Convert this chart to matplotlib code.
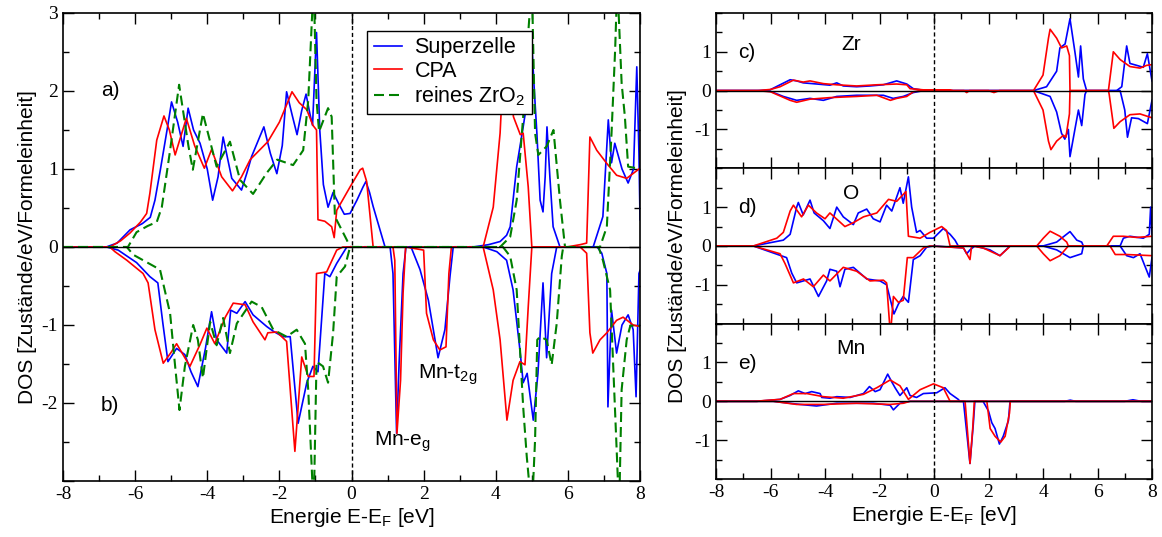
import numpy as np
import matplotlib.pyplot as plt
from matplotlib.ticker import MultipleLocator

# tick numbers in serif, all other text in sans
plt.rcParams['font.family'] = ['Liberation Serif', 'DejaVu Serif']
plt.rcParams['mathtext.default'] = 'regular'
plt.rcParams['axes.unicode_minus'] = False
SANS = ['Liberation Sans', 'DejaVu Sans']

# total DOS (E in eV, DOS per eV and formula unit), majority (up) and minority (dn)
super_up = [(-8, 0), (-6.8, 0), (-6.5, 0.05), (-6.14, 0.22), (-5.8, 0.3), (-5.58, 0.38), (-5.45, 0.6), (-5.3, 0.99),
            (-5.1, 1.54), (-4.99, 1.86), (-4.82, 1.6), (-4.67, 1.29), (-4.53, 1.78), (-4.38, 1.5), (-4.2, 1.33),
            (-4.0, 1.0), (-3.85, 0.6), (-3.7, 0.9), (-3.56, 1.41), (-3.42, 1.1), (-3.32, 0.88), (-3.05, 0.73),
            (-2.9, 0.95), (-2.77, 1.16), (-2.6, 1.35), (-2.43, 1.54), (-2.25, 1.2), (-2.07, 0.94), (-1.92, 1.3),
            (-1.8, 1.99), (-1.65, 1.7), (-1.51, 1.44), (-1.38, 1.75), (-1.26, 1.96), (-1.15, 1.7), (-1.08, 1.56),
            (-0.97, 2.75), (-0.88, 1.5), (-0.78, 0.8), (-0.65, 0.51), (-0.51, 0.7), (-0.35, 0.55), (-0.2, 0.42),
            (-0.04, 0.43), (0.15, 0.6), (0.32, 0.77), (0.4, 0.84), (0.5, 0.7), (0.6, 0.52), (0.79, 0.22), (0.93, 0),
            (3.37, 0), (3.8, 0.03), (4.12, 0.07), (4.3, 0.15), (4.4, 0.26), (4.58, 1.03), (4.76, 1.54), (4.88, 1.9),
            (5.0, 2.6), (5.07, 2.0), (5.14, 1.46), (5.23, 0.6), (5.31, 0.45), (5.37, 0.9), (5.42, 1.54), (5.5, 0.9),
            (5.59, 0.26), (5.78, 0), (6.7, 0), (6.97, 0.39), (7.12, 1.63), (7.21, 1.08), (7.3, 1.33), (7.5, 1.0),
            (7.67, 0.82), (7.82, 1.0), (7.91, 2.31), (7.97, 1.2), (8, 0.35)]
cpa_up = [(-8, 0), (-6.7, 0), (-6.4, 0.08), (-6.14, 0.18), (-5.85, 0.32), (-5.68, 0.43), (-5.59, 0.69), (-5.4, 1.37),
          (-5.2, 1.68), (-5.05, 1.5), (-4.89, 1.18), (-4.58, 1.65), (-4.35, 1.3), (-4.08, 1.01), (-3.88, 1.25),
          (-3.6, 0.9), (-3.3, 0.72), (-3.05, 0.9), (-2.81, 1.12), (-2.32, 1.35), (-2.0, 1.6), (-1.65, 1.99),
          (-1.45, 1.85), (-1.24, 1.76), (-1.07, 1.56), (-0.97, 1.5), (-0.93, 0.35), (-0.74, 0.33), (-0.55, 0.26),
          (-0.48, 0.12), (-0.41, 0.47), (-0.04, 0.77), (0.24, 0.99), (0.31, 1.01), (0.42, 0.84), (0.6, 0),
          (3.65, 0), (3.93, 0.51), (4.12, 1.46), (4.2, 2.2), (4.35, 2.3), (4.49, 1.67), (4.68, 1.44), (4.76, 1.46),
          (4.9, 0.77), (5.0, 0), (5.97, 0), (6.34, 0.03), (6.52, 0.05), (6.61, 1.41), (6.8, 1.24), (7.08, 1.07),
          (7.35, 0.92), (7.63, 0.88), (8, 1.01)]
pure_up = [(-8, 0), (-6.2, 0), (-5.96, 0.19), (-5.65, 0.27), (-5.4, 0.32), (-5.26, 0.51), (-5.03, 1.24), (-4.78, 2.08),
           (-4.52, 1.29), (-4.4, 0.99), (-4.12, 1.71), (-3.74, 1.03), (-3.37, 1.35), (-3.09, 0.86), (-2.73, 0.68),
           (-2.35, 0.95), (-2.06, 1.12), (-1.62, 1.05), (-1.34, 1.24), (-1.2, 1.88), (-1.05, 3.4), (-0.97, 1.88),
           (-0.9, 1.48), (-0.65, 1.78), (-0.55, 1.67), (-0.46, 0.39), (-0.13, 0.09), (-0.04, 0), (4.12, 0),
           (4.4, 0.13), (4.58, 0.6), (4.76, 1.67), (4.9, 2.74), (5.0, 3.4), (5.09, 1.46), (5.18, 1.18), (5.41, 1.29),
           (5.6, 1.5), (5.78, 0.6), (5.92, 0), (6.89, 0), (7.08, 0.26), (7.21, 1.46), (7.31, 2.53), (7.37, 3.4),
           (7.49, 2.1), (7.58, 1.67), (7.67, 1.03), (7.91, 1.01), (8, 1.0)]
super_dn = [(-8, 0), (-6.79, 0), (-6.47, -0.04), (-5.96, -0.2), (-5.59, -0.38), (-5.37, -0.46), (-5.23, -0.98),
            (-5.09, -1.47), (-4.85, -1.3), (-4.62, -1.38), (-4.45, -1.6), (-4.26, -1.79), (-4.05, -1.3),
            (-3.88, -0.83), (-3.74, -1.19), (-3.46, -1.36), (-3.35, -0.81), (-3.18, -0.85), (-2.95, -0.7),
            (-2.73, -0.87), (-2.35, -1.02), (-2.17, -1.08), (-1.9, -1.15), (-1.7, -1.15), (-1.48, -2.26),
            (-1.24, -1.74), (-1.07, -1.53), (-0.93, -1.6), (-0.74, -0.34), (-0.6, -0.38), (-0.41, -0.21),
            (-0.13, 0), (1.07, 0), (1.15, -0.34), (1.25, -2.39), (1.32, -1.49), (1.43, -0.34), (1.51, 0), (1.65, 0),
            (1.9, -0.29), (2.13, -0.68), (2.4, -1.42), (2.59, -1.06), (2.73, -0.38), (2.82, 0), (3.65, 0),
            (4.03, -0.06), (4.3, -0.17), (4.48, -0.55), (4.67, -1.32), (4.76, -1.74), (4.87, -1.62), (5.04, -2.22),
            (5.17, -1.62), (5.31, -0.46), (5.41, -1.42), (5.55, -0.34), (5.69, 0), (6.81, 0), (6.94, -0.08),
            (7.08, -0.34), (7.11, -2.05), (7.21, -0.81), (7.35, -1.36), (7.5, -1.0), (7.67, -0.87), (7.81, -1.06),
            (7.89, -1.92), (7.97, -0.34), (8, -0.3)]
cpa_dn = [(-8, 0), (-6.7, 0), (-6.56, -0.06), (-6.23, -0.17), (-5.78, -0.34), (-5.64, -0.46), (-5.45, -1.06),
          (-5.22, -1.49), (-5.0, -1.35), (-4.85, -1.24), (-4.48, -1.53), (-4.2, -1.25), (-4.01, -1.04),
          (-3.79, -1.24), (-3.5, -0.9), (-3.28, -0.72), (-2.95, -0.74), (-2.73, -0.96), (-2.4, -1.19),
          (-2.32, -1.1), (-2.07, -1.09), (-1.8, -1.21), (-1.57, -2.62), (-1.38, -1.41), (-1.2, -1.66),
          (-1.04, -1.66), (-0.97, -0.34), (-0.69, -0.32), (-0.41, -0.04), (-0.24, 0), (1.15, 0), (1.2, -0.17),
          (1.26, -2.39), (1.36, -1.71), (1.43, -0.59), (1.5, 0), (2.0, -0.04), (2.08, -0.85), (2.27, -1.19),
          (2.45, -1.32), (2.62, -1.28), (2.7, -0.34), (2.77, 0), (3.65, 0), (3.93, -0.55), (4.12, -1.19),
          (4.31, -2.22), (4.48, -1.71), (4.67, -1.47), (4.81, -1.51), (4.9, -0.77), (5.0, 0), (6.34, 0),
          (6.52, -0.08), (6.61, -1.1), (6.69, -1.36), (6.89, -1.19), (7.08, -1.1), (7.35, -0.94), (7.53, -0.9),
          (7.81, -1.0), (8, -1.02)]
pure_dn = [(-8, 0), (-6.23, 0), (-6.05, -0.1), (-5.31, -0.29), (-5.03, -0.85), (-4.89, -1.53), (-4.77, -2.09),
           (-4.62, -1.53), (-4.39, -1.0), (-4.26, -1.19), (-4.12, -1.68), (-3.92, -0.96), (-3.74, -1.26),
           (-3.56, -0.91), (-3.37, -1.36), (-3.18, -0.98), (-2.77, -0.7), (-2.49, -0.77), (-2.17, -1.06),
           (-1.8, -1.15), (-1.52, -1.06), (-1.29, -1.24), (-1.2, -1.83), (-1.1, -2.86), (-1.05, -3.4),
           (-0.97, -1.47), (-0.79, -1.53), (-0.65, -1.74), (-0.51, -1.1), (-0.41, -0.38), (-0.18, -0.25),
           (-0.04, 0), (4.2, 0), (4.4, -0.12), (4.58, -0.55), (4.76, -2.05), (4.86, -2.69), (5.0, -3.4),
           (5.09, -2.47), (5.15, -1.19), (5.23, -1.15), (5.41, -1.19), (5.55, -1.51), (5.69, -0.98), (5.83, -0.12),
           (5.87, 0), (6.85, 0), (6.97, -0.17), (7.17, -0.55), (7.28, -1.79), (7.36, -2.69), (7.42, -3.4),
           (7.49, -1.83), (7.63, -1.19), (7.73, -1.01), (8, -1.01)]

# partial DOS: Zr
zr_super_up = [(-8, 0), (-6.5, 0), (-6.02, 0.02), (-5.65, 0.15), (-5.28, 0.28), (-5.04, 0.25), (-4.8, 0.2),
               (-4.3, 0.17), (-3.82, 0.14), (-3.57, 0.2), (-3.33, 0.12), (-2.84, 0.1), (-2.35, 0.12), (-1.86, 0.15),
               (-1.37, 0.25), (-1.0, 0.17), (-0.76, 0.05), (-0.39, 0.01), (0, 0), (3.65, 0), (4.13, 0.1),
               (4.5, 0.5), (4.62, 1.1), (4.81, 1.2), (4.99, 1.85), (5.17, 1.0), (5.3, 0.35), (5.38, 1.15),
               (5.48, 0.3), (5.6, 0), (6.7, 0), (6.89, 0.1), (7.07, 1.15), (7.19, 0.7), (7.44, 0.65), (7.68, 0.6),
               (7.83, 0.95), (8, 0.25)]
zr_cpa_up = [(-8, 0), (-6.5, 0), (-6.0, 0.03), (-5.65, 0.1), (-5.16, 0.27), (-4.8, 0.22), (-4.55, 0.25),
             (-4.06, 0.18), (-3.57, 0.15), (-2.84, 0.12), (-2.1, 0.15), (-1.37, 0.17), (-1.0, 0.15), (-0.88, 0.05),
             (-0.39, 0.02), (0.59, 0.02), (0.7, 0), (3.65, 0), (4.0, 0.4), (4.2, 1.35), (4.26, 1.58), (4.5, 1.35),
             (4.68, 1.1), (4.87, 1.15), (4.97, 0.9), (4.99, 0), (6.4, 0), (6.58, 1.0), (6.83, 0.8), (7.19, 0.62),
             (7.56, 0.58), (7.8, 0.65), (8, 0.67)]
zr_super_dn = [(-8, 0), (-6.5, 0), (-6.0, -0.02), (-5.53, -0.15), (-5.04, -0.25), (-4.55, -0.2), (-4.06, -0.25),
               (-3.57, -0.15), (-2.84, -0.12), (-1.86, -0.12), (-1.5, -0.2), (-1.13, -0.15), (-0.76, -0.05),
               (-0.39, 0), (3.65, 0), (4.26, -0.15), (4.5, -0.55), (4.68, -1.1), (4.8, -1.25), (4.93, -1.0),
               (4.99, -1.7), (5.17, -1.0), (5.3, -0.5), (5.42, -0.9), (5.54, -0.1), (5.6, 0), (6.83, 0),
               (7.0, -0.5), (7.1, -1.2), (7.25, -0.7), (7.5, -0.72), (7.83, -0.85), (8, -0.25)]
zr_cpa_dn = [(-8, 0), (-6.5, 0), (-6.0, -0.03), (-5.28, -0.25), (-5.04, -0.3), (-4.55, -0.22), (-3.82, -0.18),
             (-2.84, -0.15), (-2.1, -0.12), (-1.6, -0.25), (-1.37, -0.2), (-1.0, -0.15), (-0.76, -0.03), (-0.5, 0),
             (1.1, 0), (1.2, -0.05), (1.3, 0), (2.0, 0), (2.2, -0.05), (2.4, 0), (3.65, 0), (4.0, -0.5),
             (4.2, -1.3), (4.29, -1.52), (4.5, -1.3), (4.75, -1.15), (4.84, -1.2), (4.97, -0.6), (4.99, 0),
             (6.4, 0), (6.43, -0.1), (6.6, -0.97), (6.83, -0.8), (7.19, -0.62), (7.56, -0.6), (8, -0.7)]

# partial DOS: O
o_super_up = [(-8, 0), (-6.63, 0), (-5.53, 0.15), (-5.28, 0.3), (-5.04, 1.0), (-4.98, 1.12), (-4.8, 0.8),
              (-4.55, 1.18), (-4.4, 0.85), (-4.06, 0.65), (-3.82, 0.45), (-3.57, 1.0), (-3.33, 0.75), (-2.96, 0.55),
              (-2.78, 0.85), (-2.47, 0.95), (-2.23, 0.7), (-1.98, 0.62), (-1.74, 1.05), (-1.55, 0.9), (-1.25, 1.5),
              (-1.13, 1.1), (-0.94, 1.78), (-0.82, 1.0), (-0.64, 0.35), (-0.51, 0.4), (-0.27, 0.2), (-0.02, 0.2),
              (0.34, 0.45), (0.59, 0.3), (0.77, 0.15), (0.89, 0), (4.0, 0), (4.5, 0.1), (4.99, 0.37), (5.24, 0.15),
              (5.42, 0.1), (5.48, 0), (6.83, 0), (6.95, 0.2), (7.19, 0.25), (7.68, 0.2), (7.9, 0.3), (7.95, 1.0),
              (8, 0.3)]
o_cpa_up = [(-8, 0), (-6.63, 0), (-5.77, 0.2), (-5.53, 0.35), (-5.28, 0.9), (-5.16, 1.05), (-4.86, 0.75),
            (-4.61, 1.05), (-4.31, 0.85), (-4.0, 0.7), (-3.82, 0.85), (-3.27, 0.5), (-2.96, 0.6), (-2.59, 0.75),
            (-2.1, 0.85), (-1.67, 1.2), (-1.37, 1.15), (-1.03, 1.4), (-0.94, 0.25), (-0.51, 0.2), (-0.15, 0.35),
            (0.28, 0.5), (0.46, 0.4), (0.59, 0), (3.77, 0), (4.01, 0.2), (4.26, 0.38), (4.62, 0.25), (4.87, 0.1),
            (4.93, 0), (6.34, 0), (6.58, 0.25), (6.95, 0.25), (7.44, 0.22), (8, 0.25)]
o_super_dn = [(-8, 0), (-6.63, 0), (-5.41, -0.3), (-5.22, -0.7), (-5.04, -0.95), (-4.55, -0.85), (-4.24, -1.3),
              (-3.94, -0.9), (-3.82, -0.6), (-3.57, -0.65), (-3.45, -1.05), (-3.27, -0.6), (-2.96, -0.55),
              (-2.47, -0.85), (-1.98, -0.9), (-1.74, -1.0), (-1.47, -1.75), (-1.31, -1.5), (-1.13, -1.3),
              (-0.94, -1.45), (-0.76, -0.35), (-0.51, -0.25), (-0.27, -0.03), (-0.02, 0), (1.08, -0.05),
              (1.2, -0.2), (1.32, -0.1), (1.5, 0), (2.05, -0.1), (2.42, -0.25), (2.79, 0), (4.0, 0), (4.5, -0.1),
              (4.99, -0.3), (5.42, -0.2), (5.48, 0), (6.83, 0), (7.07, -0.25), (7.32, -0.3), (7.56, -0.2),
              (7.9, -0.8), (8, -0.3)]
o_cpa_dn = [(-8, 0), (-6.63, 0), (-5.65, -0.2), (-5.47, -0.45), (-5.16, -0.95), (-4.79, -0.85), (-4.43, -1.05),
            (-4.06, -0.75), (-3.82, -0.9), (-3.33, -0.55), (-2.84, -0.65), (-2.35, -0.9), (-1.86, -0.88),
            (-1.74, -0.95), (-1.6, -2.3), (-1.49, -1.3), (-1.31, -1.45), (-1.13, -1.4), (-0.98, -0.3),
            (-0.76, -0.3), (-0.39, -0.05), (-0.15, 0), (1.08, -0.05), (1.32, -0.35), (1.38, 0), (1.8, -0.05),
            (2.42, -0.25), (2.73, -0.05), (2.79, 0), (3.77, 0), (4.01, -0.2), (4.26, -0.38), (4.62, -0.25),
            (4.93, 0), (6.46, 0), (6.65, -0.22), (7.07, -0.22), (8, -0.25)]

# partial DOS: Mn
mn_super_up = [(-8, 0), (-6.5, 0), (-5.65, 0.05), (-5.28, 0.15), (-4.98, 0.27), (-4.73, 0.2), (-4.49, 0.25),
               (-4.18, 0.2), (-4.12, 0.1), (-3.82, 0.08), (-3.57, 0.12), (-3.08, 0.1), (-2.59, 0.2), (-2.37, 0.38),
               (-2.16, 0.25), (-1.98, 0.3), (-1.7, 0.7), (-1.55, 0.5), (-1.43, 0.35), (-1.25, 0.15), (-1.0, 0.35),
               (-0.88, 0.15), (-0.64, 0.1), (-0.39, 0.2), (0.1, 0.22), (0.4, 0.35), (0.59, 0.2), (0.89, 0.05),
               (0.95, 0), (4.8, 0), (5.0, 0.03), (5.2, 0), (7.0, 0), (7.3, 0.04), (7.6, 0), (8, 0)]
mn_cpa_up = [(-8, 0), (-6.5, 0), (-6.26, 0.02), (-5.65, 0.05), (-5.16, 0.2), (-4.67, 0.2), (-4.06, 0.12),
             (-3.33, 0.08), (-2.59, 0.18), (-2.1, 0.35), (-1.61, 0.55), (-1.25, 0.4), (-0.94, 0.05), (-0.51, 0.3),
             (-0.02, 0.45), (0.34, 0.35), (0.59, 0), (8, 0)]
mn_super_dn = [(-8, 0), (-5.9, 0), (-4.92, -0.08), (-4.31, -0.12), (-3.57, -0.05), (-2.23, -0.05), (-1.61, -0.1),
               (-1.49, -0.22), (-1.25, -0.05), (-0.88, 0), (1.08, 0), (1.2, -0.8), (1.32, -1.6), (1.44, -0.6),
               (1.5, 0), (1.8, 0), (2.0, -0.25), (2.12, -0.55), (2.24, -0.7), (2.4, -1.1), (2.54, -0.9),
               (2.73, -0.5), (2.79, 0), (8, 0)]
mn_cpa_dn = [(-8, 0), (-5.9, 0), (-5.04, -0.08), (-4.06, -0.08), (-2.84, -0.05), (-1.61, -0.08), (-1.13, -0.05),
             (-0.88, 0), (1.14, 0), (1.22, -0.7), (1.32, -1.6), (1.42, -0.7), (1.48, 0), (1.94, 0), (2.06, -0.7),
             (2.24, -0.9), (2.45, -1.05), (2.61, -0.9), (2.77, -0.3), (2.8, 0), (8, 0)]

BLUE = '#0000ff'
RED = '#ff0000'
GREEN = '#008000'


def curve(ax, pts, color, dashed=False, **kw):
    e, d = np.array(pts).T
    if dashed:
        return ax.plot(e, d, color=color, lw=1.5, ls='--', dashes=(4.8, 2.4), **kw)
    return ax.plot(e, d, color=color, lw=1.2, solid_joinstyle='round', **kw)


def style_axes(ax, ymaj, ymin):
    ax.set_xlim(-8, 8)
    ax.xaxis.set_major_locator(MultipleLocator(2))
    ax.xaxis.set_minor_locator(MultipleLocator(1))
    ax.yaxis.set_major_locator(MultipleLocator(ymaj))
    ax.yaxis.set_minor_locator(MultipleLocator(ymin))
    ax.tick_params(which='both', direction='in', top=True, right=True, labelsize=14)
    ax.tick_params(which='major', length=8, width=1)
    ax.tick_params(which='minor', length=4, width=1)
    for s in ax.spines.values():
        s.set_linewidth(1.2)
    ax.axvline(0, color='black', ls='--', lw=1, dashes=(3, 2), zorder=4)
    ax.axhline(0, color='black', lw=1, zorder=4)


def label(ax, x, y, s, **kw):
    ax.text(x, y, s, fontsize=15, va='center', family=SANS, **kw)


fig = plt.figure(figsize=(11.62, 5.37), dpi=100)

# left: total DOS
ax = fig.add_axes([0.0542, 0.1043, 0.4966, 0.8715])
curve(ax, super_up, BLUE, label='Superzelle')
curve(ax, cpa_up, RED, label='CPA')
curve(ax, pure_up, GREEN, dashed=True, label='reines ZrO$_2$')
curve(ax, super_dn, BLUE)
curve(ax, cpa_dn, RED)
curve(ax, pure_dn, GREEN, dashed=True)
style_axes(ax, 1, 0.5)
ax.set_ylim(-3, 3)
ax.set_yticks([-3, -2, -1, 0, 1, 2, 3])
ax.set_yticklabels(['', '-2', '-1', '0', '1', '2', '3'])
ax.set_xlabel('Energie E-E$_F$ [eV]', fontsize=15, labelpad=2, family=SANS)
ax.set_ylabel('DOS [Zustände/eV/Formeleinheit]', fontsize=15, labelpad=3, family=SANS)
leg = ax.legend(loc='upper left', bbox_to_anchor=(0.527, 0.962), frameon=True, fancybox=False,
                framealpha=1, edgecolor='black', handlelength=1.3, borderpad=0.3, labelspacing=0.12,
                handletextpad=0.6, borderaxespad=0, prop={'family': SANS, 'size': 15.5})
leg.get_frame().set_linewidth(1)
label(ax, -6.95, 2.0, 'a)')
label(ax, -6.95, -2.03, 'b)')
label(ax, 1.85, -1.64, 'Mn-t$_{2g}$')
label(ax, 0.62, -2.5, 'Mn-e$_g$')

# right: partial DOS
panels = [
    ('c)', 'Zr', zr_super_up, zr_cpa_up, zr_super_dn, zr_cpa_dn, 1.18),
    ('d)', 'O', o_super_up, o_cpa_up, o_super_dn, o_cpa_dn, 1.35),
    ('e)', 'Mn', mn_super_up, mn_cpa_up, mn_super_dn, mn_cpa_dn, 1.35),
]
h = 0.2893
for i, (tag, name, su, cu, sd, cd, ny) in enumerate(panels):
    axr = fig.add_axes([0.6162, 0.108 + (2 - i) * h, 0.3752, h])
    curve(axr, su, BLUE)
    curve(axr, sd, BLUE)
    curve(axr, cu, RED)
    curve(axr, cd, RED)
    style_axes(axr, 1, 0.5)
    axr.set_ylim(-2, 2)
    axr.set_yticks([-1, 0, 1])
    axr.set_yticklabels(['-1', '0', '1'])
    label(axr, -7.2, 0.98, tag)
    label(axr, -3.05, ny, name, ha='center')
    if i < 2:
        axr.tick_params(labelbottom=False)
    else:
        axr.set_xlabel('Energie E-E$_F$ [eV]', fontsize=15, labelpad=2, family=SANS)

fig.text(0.583, 0.542, 'DOS [Zustände/eV/Formeleinheit]', fontsize=15, rotation=90, va='center', ha='center',
         family=SANS)

fig.savefig('out.png', dpi=100)
